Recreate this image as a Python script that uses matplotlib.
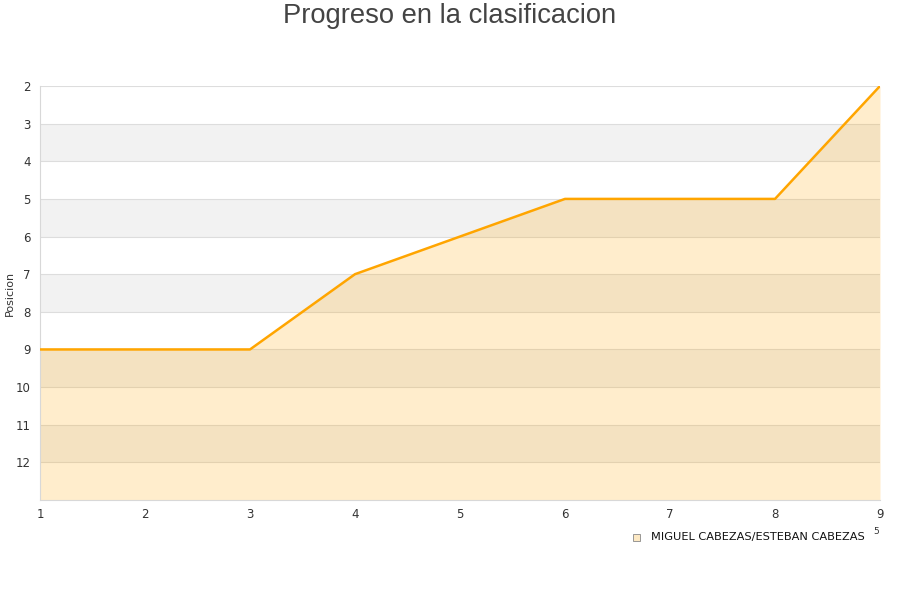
import numpy as np
import matplotlib.pyplot as plt

# datos
jornadas = [1, 2, 3, 4, 5, 6, 7, 8, 9]
posicion = [9, 9, 9, 7, 6, 5, 5, 5, 2]
y_ticks = [2, 3, 4, 5, 6, 7, 8, 9, 10, 11, 12]
equipo = 'MIGUEL CABEZAS/ESTEBAN CABEZAS'

fig = plt.figure(figsize=(9, 6), dpi=100)
ax = fig.add_axes([40 / 900, 1 - 500 / 600, 840 / 900, 414 / 600])

# bandas alternas
y_lo, y_hi = 2, 13
for k in range(y_lo, y_hi):
    if k % 2 == 1:
        ax.axhspan(k, k + 1, color='#f2f2f2', zorder=0, lw=0)
for k in range(y_lo, y_hi):
    ax.axhline(k, color='#dddddd', lw=0.8, zorder=1)

ax.fill_between(jornadas, posicion, y_hi, color='orange', alpha=0.2, lw=0, zorder=2)
ax.plot(jornadas, posicion, color='orange', lw=1.8, zorder=3)

ax.set_xlim(1, 9)
ax.set_ylim(y_hi, y_lo)
ax.set_xticks(jornadas)
ax.set_yticks(y_ticks)
ax.tick_params(axis='both', length=0, labelsize=8.5, colors='#333333')
ax.tick_params(axis='x', pad=6)
ax.tick_params(axis='y', pad=6.5)
for s in ax.spines.values():
    s.set_color('#d8d8d8')
    s.set_linewidth(0.8)
ax.spines['top'].set_visible(False)
ax.spines['right'].set_visible(False)
fig.text(10 / 900, 1 - 293 / 600, 'Posicion', rotation=90, ha='center', va='center',
         fontsize=8, color='#333333')

fig.text(0.5, 1 - 16 / 600, 'Progreso en la clasificacion', ha='center', va='center',
         fontsize=19.7, color='#444444', family='Liberation Sans')

# leyenda
fig.patches.append(plt.Rectangle((633 / 900, 1 - 541 / 600), 7 / 900, 7 / 600,
                                 transform=fig.transFigure, facecolor='#fde9c4',
                                 edgecolor='#888888', lw=0.6))
fig.text(651 / 900, 1 - 537 / 600, equipo, ha='left', va='center', fontsize=8.2, color='#111111')
fig.text(876 / 900, 1 - 532 / 600, '5', ha='center', va='center', fontsize=6.5, color='#333333')

fig.savefig('out.png', dpi=100)
